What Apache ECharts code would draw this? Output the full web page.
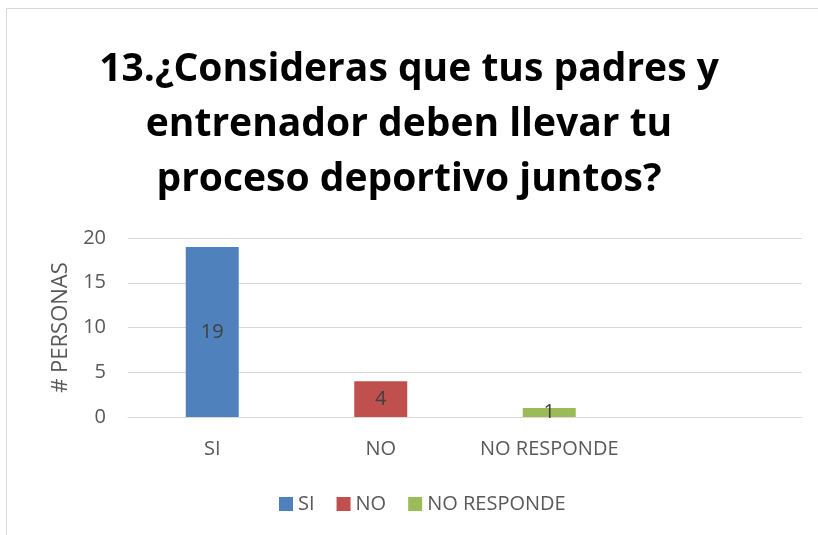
<!DOCTYPE html>
<html>
<head>
<meta charset="utf-8">
<script src="https://cdn.jsdelivr.net/npm/echarts@6/dist/echarts.min.js"></script>
<style>
  html, body { margin: 0; padding: 0; background: #fff; }
  #container { position: absolute; left: 0; top: 0; width: 818px; height: 535px; }
  #frame { position: absolute; left: 6px; top: 8px; width: 830px; height: 560px; border: 1px solid #d9d9d9; box-sizing: border-box; }
</style>
</head>
<body>
<div id="frame"></div>
<div id="container"></div>
<script>
var titleLines = ['13.¿Consideras que tus padres y', 'entrenador deben llevar tu', 'proceso deportivo juntos?'];
var categories = ['SI', 'NO', 'NO RESPONDE', ''];
var seriesNames = ['SI', 'NO', 'NO RESPONDE'];
var siValues = [19, '-', '-', '-'];
var noValues = ['-', 4, '-', '-'];
var nrValues = ['-', '-', 1, '-'];
var colors = ['#4f81bd', '#c0504d', '#9bbb59'];

var font = 'Open Sans';
var myChart = echarts.init(document.getElementById('container'));

function barSeries(name, data, color) {
  return {
    name: name,
    type: 'bar',
    stack: 'all',
    barWidth: 53,
    data: data,
    itemStyle: { color: color },
    label: {
      show: true,
      position: 'inside',
      color: '#404040',
      fontFamily: font,
      fontSize: 20
    }
  };
}

var option = {
  animation: false,
  title: {
    text: titleLines.join('\n'),
    left: 'center',
    top: 37,
    textStyle: {
      fontFamily: font,
      fontWeight: 'bold',
      fontSize: 39,
      lineHeight: 55,
      color: '#000'
    }
  },
  legend: {
    data: seriesNames,
    top: 489,
    left: 274,
    icon: 'rect',
    itemWidth: 14,
    itemHeight: 14,
    itemGap: 22,
    itemStyle: { borderWidth: 0 },
    textStyle: { color: '#595959', fontFamily: font, fontSize: 20 }
  },
  grid: { left: 128, right: 16, top: 238, height: 179 },
  xAxis: {
    type: 'category',
    data: categories,
    axisLine: { lineStyle: { color: '#d9d9d9' } },
    axisTick: { show: false },
    axisLabel: { color: '#595959', fontFamily: font, fontSize: 20, margin: 22, interval: 0 }
  },
  yAxis: {
    type: 'value',
    min: 0,
    max: 20,
    interval: 5,
    name: '# PERSONAS',
    nameLocation: 'middle',
    nameRotate: 90,
    nameGap: 56,
    nameTextStyle: { color: '#595959', fontFamily: font, fontSize: 22 },
    axisLine: { show: false },
    axisTick: { show: false },
    splitLine: { lineStyle: { color: '#d9d9d9' } },
    axisLabel: { color: '#595959', fontFamily: font, fontSize: 20, margin: 22 }
  },
  series: [
    barSeries(seriesNames[0], siValues, colors[0]),
    barSeries(seriesNames[1], noValues, colors[1]),
    barSeries(seriesNames[2], nrValues, colors[2])
  ]
};
myChart.setOption(option);
</script>
</body>
</html>
